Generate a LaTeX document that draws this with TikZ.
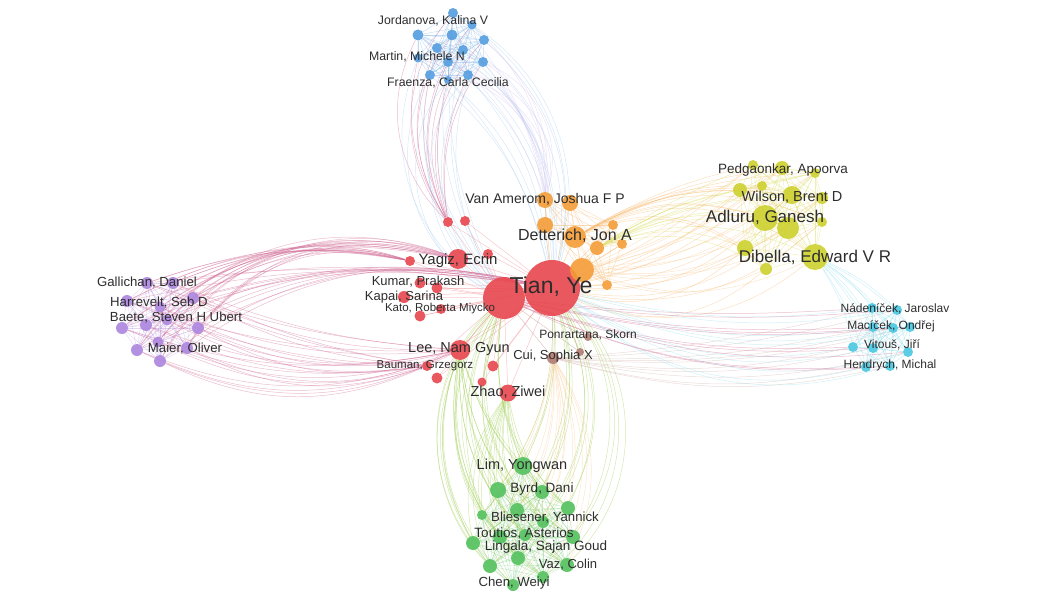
\documentclass[tikz,border=0pt]{standalone}
\usepackage{fontspec}
\setmainfont{Liberation Sans}
\pgfdeclarelayer{edges}
\pgfsetlayers{edges,main}

\definecolor{cred}{RGB}{232,70,78}
\definecolor{corange}{RGB}{244,156,54}
\definecolor{cyellow}{RGB}{205,208,45}
\definecolor{ccyan}{RGB}{72,200,226}
\definecolor{cpurple}{RGB}{172,132,222}
\definecolor{cblue}{RGB}{82,156,222}
\definecolor{cgreen}{RGB}{82,192,92}
\definecolor{cbrown}{RGB}{176,122,112}
\definecolor{ctext}{RGB}{45,45,45}
\colorlet{cpink}{cpurple!45!cred}
\colorlet{colive}{cgreen!45!cyellow}

\tikzset{
  au/.style={circle, inner sep=0pt, minimum size=#1pt, fill opacity=0.9},
  lbl/.style={text=ctext, inner sep=0pt, font=\fontsize{#1}{#1}\selectfont},
  lnk/.style={line width=0.5pt, draw opacity=0.42},
  mesh/.style={line width=0.4pt, draw opacity=0.35},
}

\def\bluelist{b1,b2,b3,b4,b5,b6,b7,b8,b9,b10,b11,b12,b13}
\def\purplelist{p1,p2,p3,p4,p5,p6,p7,p8,p9,p10,p11,p12,p13}
\def\greenlist{g1,g2,g3,g4,g5,g6,g7,g8,g9,g10,g11,g12,g13,g14,g15,g16}
\def\yellowlist{y1,y2,y3,y4,y5,y6,y7,y8,y9,y10,y11,y12,y13}
\def\cyanlist{c1,c2,c3,c4,c5,c6,c7,c8,c9,c10}
\def\orangelist{van1,van2,o3,detterich,o5,o6,o7,o8,o9}
\def\redlist{yagiz,r1,r2,r3,r4,kumar,k2,kapai,kato,kato2,lee,bauman,r5,r6,r7,zhao}

\begin{document}
\begin{tikzpicture}[x=1pt,y=-1pt]
\useasboundingbox (0,0) rectangle (1049,599);

% red cluster
\node[au=56,fill=cred] (tian) at (552,288) {};
\node[au=42,fill=cred] (red2) at (504,298) {};
\node[au=20,fill=cred] (yagiz) at (458,259) {};
\node[au=10,fill=cred] (r1) at (410,261) {};
\node[au=10,fill=cred] (r2) at (448,222) {};
\node[au=10,fill=cred] (r3) at (465,221) {};
\node[au=10,fill=cred] (r4) at (488,254) {};
\node[au=11,fill=cred] (kumar) at (420,283) {};
\node[au=11,fill=cred] (k2) at (437,288) {};
\node[au=12,fill=cred] (kapai) at (404,297) {};
\node[au=11,fill=cred] (kato) at (420,316) {};
\node[au=10,fill=cred] (kato2) at (441,309) {};
\node[au=20,fill=cred] (lee) at (460,350) {};
\node[au=10,fill=cred] (bauman) at (427,366) {};
\node[au=11,fill=cred] (r5) at (437,378) {};
\node[au=11,fill=cred] (r6) at (493,366) {};
\node[au=9,fill=cred] (r7) at (482,382) {};
\node[au=17,fill=cred] (zhao) at (508,393) {};

% brown
\node[au=12,fill=cbrown] (cui) at (553,358) {};
\node[au=8,fill=cbrown] (pon1) at (588,337) {};
\node[au=8,fill=cbrown] (pon2) at (580,352) {};

% orange cluster
\node[au=16,fill=corange] (van1) at (545,200) {};
\node[au=16,fill=corange] (van2) at (570,203) {};
\node[au=16,fill=corange] (o3) at (545,225) {};
\node[au=22,fill=corange] (detterich) at (575,237) {};
\node[au=10,fill=corange] (o5) at (613,225) {};
\node[au=14,fill=corange] (o6) at (597,248) {};
\node[au=10,fill=corange] (o7) at (622,244) {};
\node[au=24,fill=corange] (o8) at (582,270) {};
\node[au=10,fill=corange] (o9) at (607,285) {};

% yellow cluster
\node[au=10,fill=cyellow] (y1) at (753,165) {};
\node[au=14,fill=cyellow] (y2) at (782,168) {};
\node[au=10,fill=cyellow] (y3) at (815,173) {};
\node[au=14,fill=cyellow] (y4) at (740,190) {};
\node[au=10,fill=cyellow] (y5) at (762,186) {};
\node[au=18,fill=cyellow] (y6) at (792,195) {};
\node[au=12,fill=cyellow] (y7) at (822,198) {};
\node[au=26,fill=cyellow] (y8) at (765,218) {};
\node[au=22,fill=cyellow] (y9) at (788,228) {};
\node[au=10,fill=cyellow] (y10) at (822,222) {};
\node[au=16,fill=cyellow] (y11) at (745,248) {};
\node[au=26,fill=cyellow] (y12) at (815,257) {};
\node[au=12,fill=cyellow] (y13) at (766,269) {};

% cyan cluster
\node[au=10,fill=ccyan] (c1) at (872,308) {};
\node[au=10,fill=ccyan] (c2) at (897,310) {};
\node[au=10,fill=ccyan] (c3) at (873,327) {};
\node[au=10,fill=ccyan] (c4) at (893,328) {};
\node[au=10,fill=ccyan] (c5) at (910,327) {};
\node[au=10,fill=ccyan] (c6) at (853,347) {};
\node[au=10,fill=ccyan] (c7) at (873,348) {};
\node[au=10,fill=ccyan] (c8) at (908,352) {};
\node[au=10,fill=ccyan] (c9) at (866,367) {};
\node[au=10,fill=ccyan] (c10) at (890,366) {};

% purple cluster
\node[au=12,fill=cpurple] (p1) at (147,283) {};
\node[au=12,fill=cpurple] (p2) at (173,283) {};
\node[au=12,fill=cpurple] (p3) at (127,301) {};
\node[au=12,fill=cpurple] (p4) at (193,298) {};
\node[au=11,fill=cpurple] (p5) at (160,307) {};
\node[au=12,fill=cpurple] (p6) at (122,328) {};
\node[au=12,fill=cpurple] (p7) at (146,325) {};
\node[au=11,fill=cpurple] (p8) at (167,320) {};
\node[au=12,fill=cpurple] (p9) at (198,328) {};
\node[au=11,fill=cpurple] (p10) at (158,342) {};
\node[au=12,fill=cpurple] (p11) at (137,350) {};
\node[au=12,fill=cpurple] (p12) at (187,348) {};
\node[au=12,fill=cpurple] (p13) at (160,361) {};

% blue cluster
\node[au=10,fill=cblue] (b1) at (453,13) {};
\node[au=11,fill=cblue] (b2) at (418,35) {};
\node[au=11,fill=cblue] (b3) at (452,35) {};
\node[au=9,fill=cblue] (b4) at (472,25) {};
\node[au=10,fill=cblue] (b5) at (484,40) {};
\node[au=10,fill=cblue] (b6) at (437,48) {};
\node[au=10,fill=cblue] (b7) at (463,50) {};
\node[au=10,fill=cblue] (b8) at (448,62) {};
\node[au=9,fill=cblue] (b9) at (418,58) {};
\node[au=10,fill=cblue] (b10) at (483,62) {};
\node[au=10,fill=cblue] (b11) at (430,75) {};
\node[au=10,fill=cblue] (b12) at (468,75) {};
\node[au=8,fill=cblue] (b13) at (448,80) {};

% green cluster
\node[au=18,fill=cgreen] (g1) at (523,466) {};
\node[au=16,fill=cgreen] (g2) at (498,490) {};
\node[au=14,fill=cgreen] (g3) at (542,492) {};
\node[au=10,fill=cgreen] (g4) at (482,515) {};
\node[au=14,fill=cgreen] (g5) at (517,510) {};
\node[au=14,fill=cgreen] (g6) at (568,508) {};
\node[au=12,fill=cgreen] (g7) at (543,522) {};
\node[au=14,fill=cgreen] (g8) at (500,537) {};
\node[au=12,fill=cgreen] (g9) at (525,535) {};
\node[au=14,fill=cgreen] (g10) at (473,543) {};
\node[au=14,fill=cgreen] (g11) at (573,537) {};
\node[au=14,fill=cgreen] (g12) at (518,558) {};
\node[au=14,fill=cgreen] (g13) at (490,566) {};
\node[au=14,fill=cgreen] (g14) at (567,565) {};
\node[au=12,fill=cgreen] (g15) at (543,577) {};
\node[au=12,fill=cgreen] (g16) at (513,585) {};

\begin{pgfonlayer}{edges}
% links inside each cluster
\foreach \a [count=\i] in \bluelist {\foreach \b [count=\j] in \bluelist {\ifnum\i<\j \draw[mesh,cblue] (\a) -- (\b); \fi}}
\foreach \a [count=\i] in \purplelist {\foreach \b [count=\j] in \purplelist {\ifnum\i<\j \draw[mesh,cpurple] (\a) -- (\b); \fi}}
\foreach \a [count=\i] in \greenlist {\foreach \b [count=\j] in \greenlist {\ifnum\i<\j \draw[mesh,cgreen] (\a) -- (\b); \fi}}
\foreach \a [count=\i] in \yellowlist {\foreach \b [count=\j] in \yellowlist {\ifnum\i<\j \draw[mesh,cyellow] (\a) -- (\b); \fi}}
\foreach \a [count=\i] in \cyanlist {\foreach \b [count=\j] in \cyanlist {\ifnum\i<\j \draw[mesh,ccyan] (\a) -- (\b); \fi}}
\foreach \a [count=\i] in \orangelist {\foreach \b [count=\j] in \orangelist {\ifnum\i<\j \draw[mesh,corange] (\a) -- (\b); \fi}}
\foreach \s in \redlist {\draw[lnk,cred!70] (\s) -- (tian); \draw[lnk,cred!70] (\s) -- (red2);}
\foreach \s in \orangelist {\draw[lnk,corange] (\s) -- (tian);}
\foreach \s in {cui,pon1,pon2} {\draw[lnk,cbrown] (\s) -- (tian); \draw[lnk,cbrown] (\s) -- (red2);}

% blue to centre
\foreach \s [count=\i, evaluate=\i as \a using 12+3*\i, evaluate=\i as \c using 40-2*\i] in \bluelist {
  \draw[lnk,cblue!55] (\s) to[bend right=\a] (red2);
  \draw[lnk,cblue!55] (\s) to[bend left=\c] (tian);
  \draw[lnk,cpink] (\s) to[bend right=\c] (r2);
  \draw[lnk,cpurple!50] (\s) to[bend left=\a] (van1);
}
% purple to centre
\foreach \s [count=\i, evaluate=\i as \a using 12+2.2*\i, evaluate=\i as \c using 6+1.4*\i] in \purplelist {
  \draw[lnk,cpink] (\s) to[bend left=\a] (r1);
  \draw[lnk,cpink] (\s) to[bend left=\a] (yagiz);
  \draw[lnk,cpink] (\s) to[bend left=\c] (tian);
  \draw[lnk,cpink] (\s) to[bend right=\c] (lee);
  \draw[lnk,cpink] (\s) to[bend right=\c] (bauman);
}
% green to centre
\foreach \s [count=\i, evaluate=\i as \a using 12+2.4*\i, evaluate=\i as \c using 8+1.5*\i] in \greenlist {
  \draw[lnk,colive] (\s) to[bend left=\a] (red2);
  \draw[lnk,colive] (\s) to[bend right=\a] (tian);
  \draw[lnk,colive] (\s) to[bend left=\c] (lee);
  \draw[lnk,corange!60] (\s) to[bend right=\c] (cui);
  \draw[lnk,colive] (\s) to[bend left=\c] (zhao);
}
% yellow to centre
\foreach \s [count=\i, evaluate=\i as \a using 6+2*\i, evaluate=\i as \c using 4+1.5*\i] in \yellowlist {
  \draw[lnk,corange!75] (\s) to[bend left=\a] (tian);
  \draw[lnk,corange!75] (\s) to[bend right=\a] (detterich);
  \draw[lnk,cyellow!80] (\s) to[bend right=\c] (o6);
  \draw[lnk,corange!60] (\s) to[bend left=\c] (o8);
}
% cyan to centre
\foreach \s [count=\i, evaluate=\i as \a using 8+2*\i, evaluate=\i as \c using 4+\i] in \cyanlist {
  \draw[lnk,ccyan!60] (\s) to[bend left=\a] (tian);
  \draw[lnk,cpink] (\s) to[bend left=\c] (red2);
  \draw[lnk,ccyan!60] (\s) to[bend right=10] (y12);
  \draw[lnk,cbrown!60] (\s) to[bend left=\c] (cui);
}
\end{pgfonlayer}

% labels
\node[lbl=23] (l-tian) at (551,287) {Tian, Ye};
\node[lbl=14] (l-van) at (545,199) {Van Amerom, Joshua F P};
\node[lbl=16] (l-dett) at (575,236) {Detterich, Jon A};
\node[lbl=15] (l-yagiz) at (458,261) {Yagiz, Ecrin};
\node[lbl=13] (l-kumar) at (418,282) {Kumar, Prakash};
\node[lbl=13] (l-kapai) at (404,297) {Kapai, Sarina};
\node[lbl=11.5] (l-kato) at (440,309) {Kato, Roberta Miycko};
\node[lbl=14.5] (l-lee) at (459,349) {Lee, Nam Gyun};
\node[lbl=11.5] (l-bauman) at (425,366) {Bauman, Grzegorz};
\node[lbl=14.5] (l-zhao) at (508,392) {Zhao, Ziwei};
\node[lbl=13] (l-cui) at (553,356) {Cui, Sophia X};
\node[lbl=12] (l-pon) at (588,335) {Ponrartana, Skorn};
\node[lbl=13.5] (l-pedg) at (783,170) {Pedgaonkar, Apoorva};
\node[lbl=14.5] (l-wilson) at (792,197) {Wilson, Brent D};
\node[lbl=17] (l-adluru) at (765,217) {Adluru, Ganesh};
\node[lbl=17] (l-dibella) at (815,257) {Dibella, Edward V R};
\node[lbl=12] (l-nad) at (895,309) {Nádeníček, Jaroslav};
\node[lbl=12] (l-mac) at (891,326) {Macíček, Ondřej};
\node[lbl=12] (l-vit) at (892,345) {Vitouš, Jiří};
\node[lbl=12] (l-hen) at (890,365) {Hendrych, Michal};
\node[lbl=12.3] (l-jord) at (433,21) {Jordanova, Kalina V};
\node[lbl=12.3] (l-martin) at (417,57) {Martin, Michele N};
\node[lbl=12.3] (l-fraenza) at (448,83) {Fraenza, Carla Cecilia};
\node[lbl=13.2] (l-gall) at (147,283) {Gallichan, Daniel};
\node[lbl=13.2] (l-harr) at (159,303) {Harrevelt, Seb D};
\node[lbl=13.2] (l-baete) at (176,318) {Baete, Steven H Ubert};
\node[lbl=13.2] (l-maier) at (185,349) {Maier, Oliver};
\node[lbl=14.5] (l-lim) at (522,466) {Lim, Yongwan};
\node[lbl=13.5] (l-byrd) at (542,489) {Byrd, Dani};
\node[lbl=13.2] (l-blie) at (545,518) {Bliesener, Yannick};
\node[lbl=13.5] (l-tout) at (524,533) {Toutios, Asterios};
\node[lbl=13.5] (l-ling) at (546,547) {Lingala, Sajan Goud};
\node[lbl=13] (l-vaz) at (568,565) {Vaz, Colin};
\node[lbl=13.2] (l-chen) at (514,583) {Chen, Weiyi};
\end{tikzpicture}
\end{document}
